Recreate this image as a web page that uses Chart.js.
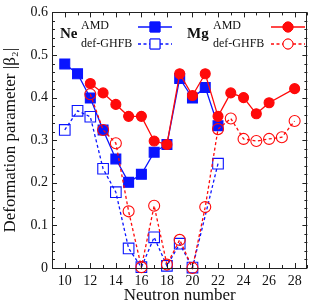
<!DOCTYPE html>
<html><head><meta charset="utf-8">
<script src="https://cdn.jsdelivr.net/npm/chart.js@4.4.0/dist/chart.umd.min.js"></script>
<style>html,body{margin:0;padding:0;background:#fff;}#wrap{width:316px;height:304px;}</style>
</head><body><div id="wrap"><canvas id="c" width="316" height="304"></canvas></div>
<script>
// ---- data ----
const neAMD_N   = [10,11,12,13,14,15,16,17,18,19,20,21,22];
const neAMD     = [0.479,0.456,0.399,0.324,0.256,0.201,0.220,0.272,0.290,0.445,0.399,0.424,0.334];
const neGHFB_N  = [10,11,12,13,14,15,16,17,18,19,20,22];
const neGHFB    = [0.324,0.369,0.355,0.233,0.178,0.046,0.002,0.072,0.005,0.057,0.001,0.245];
const mgAMD_N   = [12,13,14,15,16,17,18,19,20,21,22,23,24,25,26,28];
const mgAMD     = [0.433,0.411,0.384,0.356,0.356,0.298,0.290,0.456,0.405,0.456,0.356,0.411,0.400,0.362,0.388,0.421];
const mgGHFB_N  = [12,13,14,15,16,17,18,19,20,21,22,23,24,25,26,27,28];
const mgGHFB    = [0.408,0.324,0.293,0.133,0.002,0.146,0.008,0.066,0.000,0.143,0.326,0.351,0.303,0.298,0.303,0.307,0.345];
const xTickLabels = [10,12,14,16,18,20,22,24,26,28];
const yTickLabels = [0,0.1,0.2,0.3,0.4,0.5,0.6];
const xMinorTicks = [9,10,11,12,13,14,15,16,17,18,19,20,21,22,23,24,25,26,27,28,29];
const yMinorTicks = [0,0.02,0.04,0.06,0.08,0.1,0.12,0.14,0.16,0.18,0.2,0.22,0.24,0.26,0.28,0.3,0.32,0.34,0.36,0.38,0.4,0.42,0.44,0.46,0.48,0.5,0.52,0.54,0.56,0.58,0.6];
const legendTitles = ['Ne','Mg'];
const legendSeries = ['AMD','def-GHFB'];

const xy = (xs, ys) => xs.map((x,i)=>({x:x, y:ys[i]}));
const BLUE = '#0a14ff', RED = '#ff0a0a';
const SERIF = '"Liberation Serif", "DejaVu Serif", serif';

const frameTicks = {
  id:'frameTicks',
  afterDatasetsDraw(chart){
    const {ctx, chartArea:a, scales:{x, y}} = chart;
    ctx.save();
    ctx.strokeStyle = '#222';
    ctx.lineWidth = 1;
    ctx.strokeRect(Math.round(a.left)+0.5, Math.round(a.top)+0.5, Math.round(a.right-a.left)-1, Math.round(a.bottom-a.top));
    ctx.beginPath();
    xMinorTicks.forEach(v=>{
      const px = Math.round(x.getPixelForValue(v))+0.5;
      const len = xTickLabels.includes(v) ? 5 : 3;
      ctx.moveTo(px, a.bottom); ctx.lineTo(px, a.bottom-len);
      ctx.moveTo(px, a.top); ctx.lineTo(px, a.top+len);
    });
    yMinorTicks.forEach(v=>{
      const py = Math.round(y.getPixelForValue(v))+0.5;
      const major = yTickLabels.some(t=>Math.abs(t-v)<1e-9);
      const len = major ? 5 : 3;
      ctx.moveTo(a.left, py); ctx.lineTo(a.left+len, py);
      ctx.moveTo(a.right, py); ctx.lineTo(a.right-len, py);
    });
    ctx.stroke();
    ctx.restore();
  }
};

const legendPlugin = {
  id:'customLegend',
  afterDraw(chart){
    const ctx = chart.ctx;
    ctx.save();
    const groups = [
      {title:legendTitles[0], tx:60, lx:81, sx0:138, sx1:172, color:BLUE, solidStyle:'rect', openStyle:'rect', r:7},
      {title:legendTitles[1], tx:187, lx:213, sx0:271, sx1:305, color:RED, solidStyle:'circle', openStyle:'circle', r:5}
    ];
    groups.forEach(g=>{
      ctx.fillStyle = '#111';
      ctx.font = 'bold 15px ' + SERIF;
      ctx.textBaseline = 'middle';
      ctx.textAlign = 'left';
      ctx.fillText(g.title, g.tx, 34);
      ctx.font = '12px ' + SERIF;
      ctx.fillText(legendSeries[0], g.lx, 26);
      ctx.fillText(legendSeries[1], g.lx, 44);
      ctx.strokeStyle = g.color;
      ctx.lineWidth = 1.3;
      ctx.setLineDash([]);
      ctx.beginPath(); ctx.moveTo(g.sx0, 27); ctx.lineTo(g.sx1, 27); ctx.stroke();
      ctx.setLineDash([3,2.5]);
      ctx.beginPath(); ctx.moveTo(g.sx0, 44); ctx.lineTo(g.sx1, 44); ctx.stroke();
      ctx.setLineDash([]);
      const cx = (g.sx0+g.sx1)/2;
      ctx.fillStyle = g.color;
      ctx.lineWidth = 1;
      Chart.helpers.drawPoint(ctx, {pointStyle:g.solidStyle, radius:g.r, borderWidth:1}, cx, 27);
      ctx.fill(); ctx.stroke();
      ctx.fillStyle = '#fff';
      Chart.helpers.drawPoint(ctx, {pointStyle:g.openStyle, radius:g.r, borderWidth:1}, cx, 44);
      ctx.fill(); ctx.stroke();
    });
    ctx.restore();
  }
};

const common = {showLine:true, clip:false, borderWidth:1.3, pointBorderWidth:1.1, tension:0};
new Chart(document.getElementById('c'), {
  type:'line',
  data:{datasets:[
    Object.assign({label:'Mg AMD', data:xy(mgAMD_N, mgAMD), borderColor:RED, backgroundColor:RED,
      pointStyle:'circle', pointRadius:5, pointBackgroundColor:RED, pointBorderColor:RED}, common),
    Object.assign({label:'Mg def-GHFB', data:xy(mgGHFB_N, mgGHFB), borderColor:RED, borderDash:[3,2.5],
      pointStyle:'circle', pointRadius:5.5, pointBackgroundColor:'rgba(255,255,255,0)', pointBorderColor:RED}, common),
    Object.assign({label:'Ne AMD', data:xy(neAMD_N, neAMD), borderColor:BLUE, backgroundColor:BLUE,
      pointStyle:'rect', pointRadius:7, pointBackgroundColor:BLUE, pointBorderColor:BLUE}, common),
    Object.assign({label:'Ne def-GHFB', data:xy(neGHFB_N, neGHFB), borderColor:BLUE, borderDash:[3,2.5],
      pointStyle:'rect', pointRadius:7.5, pointBackgroundColor:'rgba(255,255,255,0)', pointBorderColor:BLUE}, common)
  ]},
  options:{
    responsive:false, animation:false, devicePixelRatio:1,
    layout:{padding:{left:0, right:3, top:5, bottom:0}},
    plugins:{legend:{display:false}, tooltip:{enabled:false}},
    scales:{
      x:{type:'linear', min:9, max:29,
        grid:{display:false, drawTicks:false}, border:{display:false},
        afterBuildTicks:s=>{s.ticks = xTickLabels.map(v=>({value:v}));},
        afterFit:s=>{s.height = 36;},
        ticks:{padding:5, maxRotation:0, autoSkip:false, color:'#111', font:{family:SERIF, size:14}, callback:v=>String(v)},
        title:{display:true, text:'Neutron number', color:'#111', padding:{top:0,bottom:0}, font:{family:SERIF, size:17, lineHeight:1.0}}
      },
      y:{type:'linear', min:0, max:0.6,
        grid:{display:false, drawTicks:false}, border:{display:false},
        afterBuildTicks:s=>{s.ticks = yTickLabels.map(v=>({value:v}));},
        afterFit:s=>{s.width = 52;},
        ticks:{padding:4, autoSkip:false, color:'#111', font:{family:SERIF, size:14}, callback:v=> v===0 ? '0' : Number(v).toFixed(1)},
        title:{display:true, text:'Deformation parameter |β₂|', color:'#111', padding:{top:1,bottom:0}, font:{family:SERIF, size:17, lineHeight:1.1}}
      }
    }
  },
  plugins:[frameTicks, legendPlugin]
});
</script></body></html>
